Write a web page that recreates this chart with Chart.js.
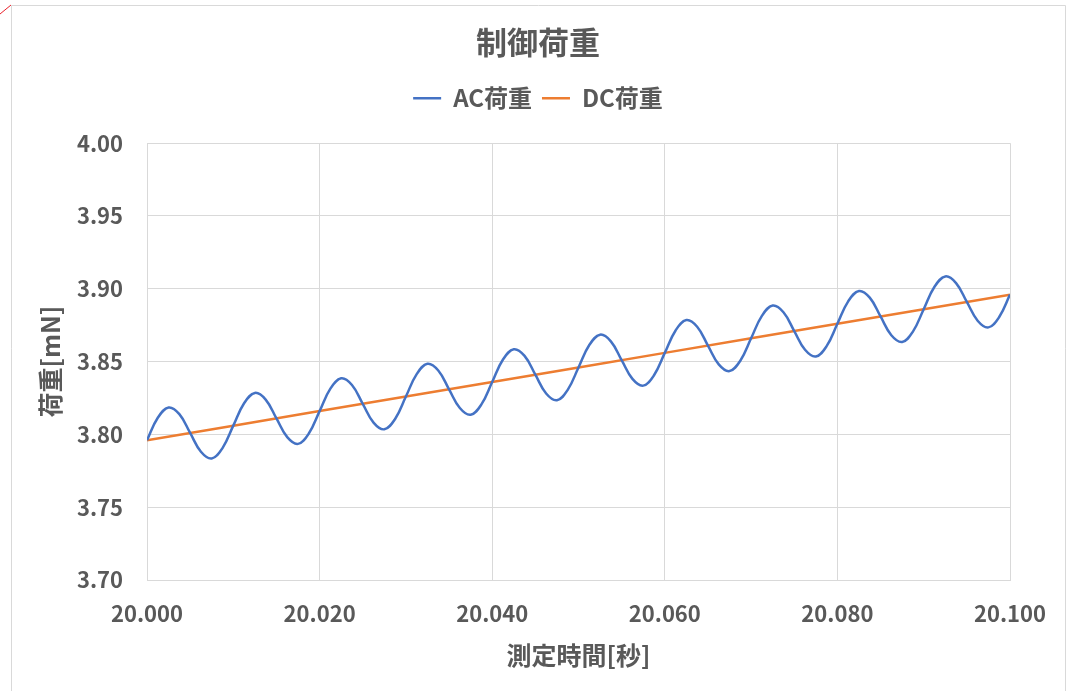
<!DOCTYPE html>
<html lang="ja">
<head>
<meta charset="utf-8">
<title>制御荷重</title>
<script src="https://cdn.jsdelivr.net/npm/chart.js@4.4.1/dist/chart.umd.min.js"></script>
<style>
  html, body { margin: 0; padding: 0; background: #ffffff; }
  #wrap { position: relative; width: 1076px; height: 691px; }
</style>
</head>
<body>
<div id="wrap"><canvas id="chart" width="1076" height="691"></canvas></div>
<script>
// Sample times [s] for the AC load trace
const acTime = [
  20.00000, 20.00125, 20.00250, 20.00375, 20.00500, 20.00625, 20.00750, 20.00875,
  20.01000, 20.01125, 20.01250, 20.01375, 20.01500, 20.01625, 20.01750, 20.01875,
  20.02000, 20.02125, 20.02250, 20.02375, 20.02500, 20.02625, 20.02750, 20.02875,
  20.03000, 20.03125, 20.03250, 20.03375, 20.03500, 20.03625, 20.03750, 20.03875,
  20.04000, 20.04125, 20.04250, 20.04375, 20.04500, 20.04625, 20.04750, 20.04875,
  20.05000, 20.05125, 20.05250, 20.05375, 20.05500, 20.05625, 20.05750, 20.05875,
  20.06000, 20.06125, 20.06250, 20.06375, 20.06500, 20.06625, 20.06750, 20.06875,
  20.07000, 20.07125, 20.07250, 20.07375, 20.07500, 20.07625, 20.07750, 20.07875,
  20.08000, 20.08125, 20.08250, 20.08375, 20.08500, 20.08625, 20.08750, 20.08875,
  20.09000, 20.09125, 20.09250, 20.09375, 20.09500, 20.09625, 20.09750, 20.09875,
  20.10000
];

// AC load [mN]
const acLoad = [
  3.7960, 3.8114, 3.8185, 3.8139, 3.8010, 3.7881, 3.7835, 3.7906,
  3.8060, 3.8214, 3.8285, 3.8239, 3.8110, 3.7981, 3.7935, 3.8006,
  3.8160, 3.8314, 3.8385, 3.8339, 3.8210, 3.8081, 3.8035, 3.8106,
  3.8260, 3.8414, 3.8485, 3.8439, 3.8310, 3.8181, 3.8135, 3.8206,
  3.8360, 3.8514, 3.8585, 3.8539, 3.8410, 3.8281, 3.8235, 3.8306,
  3.8460, 3.8614, 3.8685, 3.8639, 3.8510, 3.8381, 3.8335, 3.8406,
  3.8560, 3.8714, 3.8785, 3.8739, 3.8610, 3.8481, 3.8435, 3.8506,
  3.8660, 3.8814, 3.8885, 3.8839, 3.8710, 3.8581, 3.8535, 3.8606,
  3.8760, 3.8914, 3.8985, 3.8939, 3.8810, 3.8681, 3.8635, 3.8706,
  3.8860, 3.9014, 3.9085, 3.9039, 3.8910, 3.8781, 3.8735, 3.8806,
  3.8960
];

// Sample times [s] and DC load [mN]
const dcTime = [20.00, 20.01, 20.02, 20.03, 20.04, 20.05, 20.06, 20.07, 20.08, 20.09, 20.10];
const dcLoad = [3.796, 3.806, 3.816, 3.826, 3.836, 3.846, 3.856, 3.866, 3.876, 3.886, 3.896];

// Axis ticks
const xTicks = [20.00, 20.02, 20.04, 20.06, 20.08, 20.10];
const yTicks = [3.70, 3.75, 3.80, 3.85, 3.90, 3.95, 4.00];

const FONT = "'Noto Sans CJK JP', 'Noto Sans', sans-serif";
const TEXT = '#595959';
const GRID = '#d9d9d9';

// White background, outer frame and the small corner mark
const framePlugin = {
  id: 'frame',
  beforeDraw(chart) {
    const ctx = chart.ctx;
    ctx.save();
    ctx.fillStyle = '#ffffff';
    ctx.fillRect(0, 0, chart.width, chart.height);
    ctx.strokeStyle = GRID;
    ctx.lineWidth = 1;
    ctx.beginPath();
    ctx.moveTo(11.5, chart.height);
    ctx.lineTo(11.5, 5.5);
    ctx.lineTo(1065.5, 5.5);
    ctx.lineTo(1065.5, chart.height);
    ctx.stroke();
    ctx.strokeStyle = '#e8202a';
    ctx.beginPath();
    ctx.moveTo(0, 14);
    ctx.lineTo(11, 5);
    ctx.stroke();
    ctx.restore();
  }
};

// Leave extra room between the legend row and the plot area
const legendGapPlugin = {
  id: 'legendGap',
  beforeLayout(chart) {
    const legend = chart.legend;
    if (legend && !legend._gapPatched) {
      const fit = legend.fit;
      legend.fit = function () {
        fit.call(this);
        this.height += 23;
      };
      legend._gapPatched = true;
    }
  }
};

new Chart(document.getElementById('chart'), {
  type: 'line',
  data: {
    datasets: [
      {
        label: 'AC荷重',
        data: acTime.map((t, i) => ({ x: t, y: acLoad[i] })),
        borderColor: '#4472C4',
        backgroundColor: '#4472C4',
        borderWidth: 2.5,
        pointRadius: 0,
        tension: 0.4,
        fill: false
      },
      {
        label: 'DC荷重',
        data: dcTime.map((t, i) => ({ x: t, y: dcLoad[i] })),
        borderColor: '#ED7D31',
        backgroundColor: '#ED7D31',
        borderWidth: 2.5,
        pointRadius: 0,
        tension: 0,
        fill: false
      }
    ]
  },
  options: {
    responsive: false,
    animation: false,
    devicePixelRatio: 1,
    layout: { padding: { left: 0, right: 0, top: 0, bottom: 0 } },
    plugins: {
      title: {
        display: true,
        text: '制御荷重',
        color: TEXT,
        font: { family: FONT, size: 31, weight: 'bold', lineHeight: 1.2 },
        padding: { top: 24, bottom: 15 }
      },
      legend: {
        display: true,
        position: 'top',
        labels: {
          color: TEXT,
          font: { family: FONT, size: 24, weight: 'bold' },
          usePointStyle: true,
          pointStyle: 'line',
          pointStyleWidth: 28,
          boxHeight: 24,
          padding: 10
        }
      },
      tooltip: { enabled: false }
    },
    scales: {
      x: {
        type: 'linear',
        min: 20.00,
        max: 20.10,
        afterBuildTicks(scale) { scale.ticks = xTicks.map(v => ({ value: v })); },
        afterFit(scale) { scale.height = 111; },
        grid: { color: GRID, lineWidth: 1, drawTicks: false },
        border: { color: GRID, width: 1 },
        ticks: {
          color: TEXT,
          padding: 20,
          maxRotation: 0,
          autoSkip: false,
          font: { family: FONT, size: 22, weight: 'bold' },
          callback: v => Number(v).toFixed(3)
        },
        title: {
          display: true,
          text: '測定時間[秒]',
          color: TEXT,
          font: { family: FONT, size: 25, weight: 'bold', lineHeight: 1.2 },
          padding: { top: 0, bottom: 21 }
        }
      },
      y: {
        type: 'linear',
        min: 3.70,
        max: 4.00,
        afterBuildTicks(scale) { scale.ticks = yTicks.map(v => ({ value: v })); },
        afterFit(scale) { scale.width = 147; },
        grid: { color: GRID, lineWidth: 1, drawTicks: false },
        border: { color: GRID, width: 1 },
        ticks: {
          color: TEXT,
          padding: 24,
          autoSkip: false,
          font: { family: FONT, size: 22, weight: 'bold' },
          callback: v => Number(v).toFixed(2)
        },
        title: {
          display: true,
          text: '荷重[mN]',
          color: TEXT,
          font: { family: FONT, size: 25, weight: 'bold', lineHeight: 1.2 },
          padding: { top: 35, bottom: 0 }
        }
      },
      // empty right-hand margin beside the plot area
      yRight: {
        type: 'linear',
        position: 'right',
        display: true,
        afterFit(scale) { scale.width = 66; },
        grid: { drawOnChartArea: false, drawTicks: false },
        border: { display: false },
        ticks: { display: false }
      }
    }
  },
  plugins: [framePlugin, legendGapPlugin]
});
</script>
</body>
</html>
